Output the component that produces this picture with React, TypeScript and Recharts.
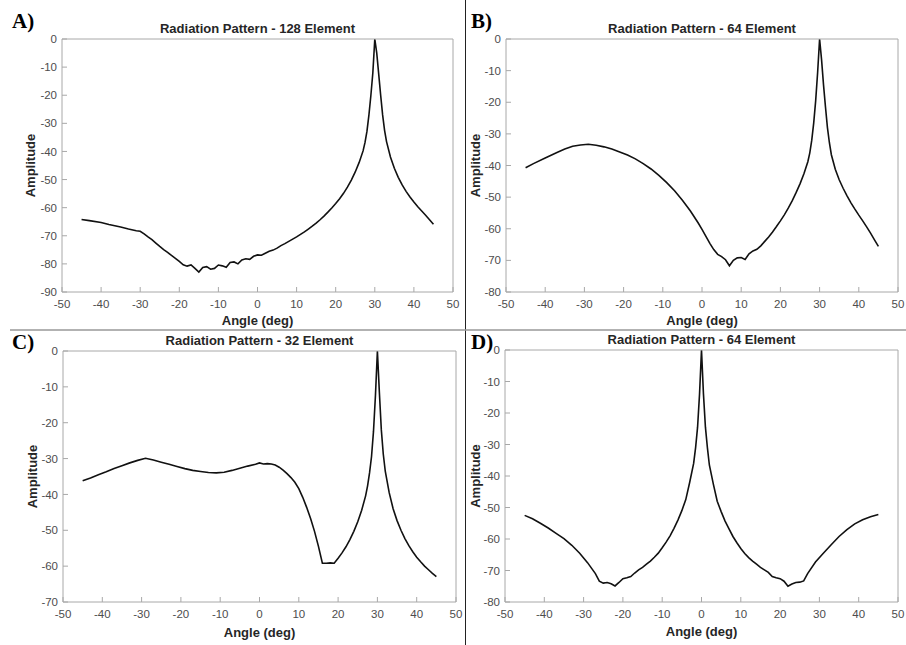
import { LineChart, Line, XAxis, YAxis } from "recharts";

// angle grid (deg) and amplitude (dB)
const anglesA = [
  -45, -43, -40, -38, -35, -33, -31, -30, -29, -28,
  -27, -26, -25, -24, -23, -22, -21, -20, -19, -18,
  -17, -16, -15, -14, -13, -12, -11, -10, -9, -8,
  -7, -6, -5, -4, -3, -2, -1, 0, 1, 2,
  3, 4, 5, 6, 7, 8, 9, 10, 11, 12,
  13, 14, 15, 16, 17, 18, 19, 20, 21, 22,
  23, 24, 25, 26, 27, 27.5, 28, 28.5, 29, 29.5,
  30, 30.5, 31, 31.5, 32, 32.5, 33, 34, 35, 36,
  37, 38, 39, 40, 41, 42, 43, 44, 45,
];
const ampA = [
  -64.2, -64.6, -65.3, -66.0, -66.9, -67.6, -68.2, -68.4, -69.3, -70.4,
  -71.4, -72.6, -73.8, -74.9, -75.9, -77.0, -78.0, -79.1, -80.3, -80.8,
  -80.4, -81.6, -82.9, -81.3, -81.0, -81.9, -81.6, -80.4, -80.7, -81.2,
  -79.5, -79.3, -80.0, -78.6, -78.2, -78.4, -77.3, -76.8, -76.9, -76.2,
  -75.5, -75.1, -74.4, -73.5, -72.8, -72.0, -71.2, -70.4, -69.5, -68.6,
  -67.6, -66.6, -65.5, -64.3, -63.0, -61.6, -60.1, -58.5, -56.8, -54.9,
  -52.7, -50.2, -47.3, -43.9, -39.8, -36.8, -32.8, -27.0, -20.0, -12.0,
  0, -5.0, -12.5, -20.0, -27.0, -32.5, -36.5, -42.0, -46.0, -49.2,
  -51.9, -54.2, -56.2, -58.0, -59.7, -61.2, -62.7, -64.3, -65.9,
];

const anglesB = [
  -45, -43, -40, -37, -35, -33, -31, -29, -27, -25,
  -23, -21, -19, -17, -15, -13, -11, -9, -7, -5,
  -3, -1, 0, 1, 2, 3, 4, 5, 6, 7,
  8, 9, 10, 11, 12, 13, 14, 15, 16, 17,
  18, 19, 20, 21, 22, 23, 24, 25, 26, 27,
  27.5, 28, 28.5, 29, 29.5, 30, 30.5, 31, 31.5, 32,
  32.5, 33, 34, 35, 36, 37, 38, 39, 40, 41,
  42, 43, 44, 45,
];
const ampB = [
  -40.7, -39.4, -37.6, -35.9, -34.8, -33.9, -33.5, -33.3, -33.6, -34.1,
  -34.8, -35.7, -36.7, -37.9, -39.4, -41.1, -43.1, -45.4, -48.0, -51.0,
  -54.3, -58.1, -60.2, -62.4, -64.6, -66.6, -68.1, -68.8, -69.8, -71.7,
  -70.0, -69.2, -69.1, -69.7, -67.9, -67.0, -66.5, -65.4, -64.0, -62.6,
  -61.0, -59.3, -57.5, -55.6, -53.5, -51.2, -48.6, -45.8, -42.6, -38.8,
  -36.0, -32.0, -26.5, -19.5, -10.5, 0, -6.5, -14.5, -21.5, -28.0,
  -32.8, -36.6, -41.2, -44.5, -47.2, -49.6, -51.8, -53.8, -55.7, -57.5,
  -59.4, -61.4, -63.5, -65.6,
];

const anglesC = [
  -45, -43, -41, -39, -37, -35, -33, -31, -29, -27,
  -25, -23, -21, -19, -17, -15, -13, -11, -9, -7,
  -5, -3, -1, 0,
  1, 2, 3, 4, 5, 6, 7, 8, 9, 10,
  11, 12, 13, 14, 15, 16, 17, 18, 19, 20,
  21, 22, 23, 24, 25, 26, 27,
  27.5, 28, 28.5, 29, 29.5, 30, 30.5, 31, 31.5, 32,
  33, 34, 35, 36, 37, 38, 39, 40, 41, 42, 43, 44, 45,
];
const ampC = [
  -36.2, -35.4, -34.5, -33.7, -32.8, -32.0, -31.2, -30.5, -29.9, -30.4,
  -31.0, -31.6, -32.2, -32.8, -33.3, -33.6, -33.9, -34.0, -33.8, -33.3,
  -32.7, -32.1, -31.6, -31.2,
  -31.5, -31.4, -31.5, -31.8, -32.4, -33.2, -34.2, -35.3, -36.6, -38.4,
  -40.8, -43.6, -46.7, -50.3, -54.5, -59.2, -59.2, -59.1, -59.2, -57.8,
  -56.3, -54.6, -52.6, -50.3, -47.6, -44.4, -40.4,
  -37.6, -34.0, -29.5, -22.5, -12.5, 0, -11.5, -22.0, -28.8, -33.5,
  -39.5, -44.0, -47.3, -50.0, -52.3, -54.3, -56.0, -57.5, -58.8, -60.0, -61.0, -62.0, -62.9,
];

const anglesD = [
  -45, -43, -41, -39, -37, -35, -33, -31, -29, -27,
  -26, -25, -24, -23, -22, -21, -20, -19, -18, -17,
  -16, -15, -14, -13, -12, -11, -10, -9, -8, -7,
  -6, -5, -4, -3, -2, -1.5, -1, -0.5, 0,
  0.5, 1, 1.5, 2, 3, 4, 5, 6, 7, 8,
  9, 10, 11, 12, 13, 14, 15, 16, 17, 18,
  19, 20, 21, 22, 23, 24, 25, 26, 27,
  29, 31, 33, 35, 37, 39, 41, 43, 45,
];
const ampD = [
  -52.5, -53.6, -55.0, -56.5, -58.2, -59.9, -62.0, -64.5, -67.5, -71.0,
  -73.4, -74.0, -73.8, -74.2, -74.9, -73.8, -72.6, -72.3, -71.9, -70.8,
  -69.8, -69.0, -68.0, -67.0, -65.8, -64.5, -62.8, -61.0, -59.0, -56.6,
  -54.0, -51.0, -47.5, -42.0, -36.0, -31.0, -24.5, -14.0, 0,
  -14.0, -24.5, -31.0, -36.5, -42.5, -48.0, -51.3, -54.3, -56.8, -59.2,
  -61.2, -63.0, -64.6, -65.9, -67.0, -68.0, -69.0, -69.8, -70.6, -71.9,
  -72.3, -72.6, -73.4, -75.0, -74.3, -73.8, -73.7, -73.3, -71.0,
  -67.3, -64.5, -61.8, -59.2, -57.0, -55.2, -53.9, -52.9, -52.2,
];

const angleTicks = [-50, -40, -30, -20, -10, 0, 10, 20, 30, 40, 50];
const ampTicks90 = [-90, -80, -70, -60, -50, -40, -30, -20, -10, 0];
const ampTicks80 = [-80, -70, -60, -50, -40, -30, -20, -10, 0];
const ampTicks70 = [-70, -60, -50, -40, -30, -20, -10, 0];

const SANS = "'Liberation Sans', Arial, sans-serif";
const SERIF = "'Liberation Serif', 'Times New Roman', serif";
const AXIS = "#a8a8a8";
const tickStyle = { fill: "#4d4d4d", fontSize: 11.5, fontFamily: SANS };
const labelProps = { fill: "#262626", fontSize: 13, fontWeight: "bold", fontFamily: SANS };

interface PanelProps {
  angles: number[];
  amps: number[];
  yTicks: number[];
  left: number;
  top: number;
  width: number;
  height: number;
  margin: { top: number; right: number; bottom: number; left: number };
  yWidth: number;
  yLabelOffset: number;
  xLabelOffset: number;
}

const Panel = ({ angles, amps, yTicks, left, top, width, height, margin, yWidth, yLabelOffset, xLabelOffset }: PanelProps) => {
  const data = angles.map((a, i) => ({ angle: a, amp: amps[i] }));
  const yDomain = [yTicks[0], 0];
  return (
    <div style={{ position: "absolute", left, top }}>
      <LineChart width={width} height={height} data={data} margin={margin}>
        <XAxis
          dataKey="angle"
          type="number"
          domain={[-50, 50]}
          ticks={angleTicks}
          height={36}
          stroke={AXIS}
          tickSize={-5}
          tickMargin={13}
          tick={tickStyle}
          label={{ value: "Angle (deg)", position: "insideBottom", offset: xLabelOffset, ...labelProps }}
        />
        <XAxis xAxisId="top" orientation="top" type="number" domain={[-50, 50]} ticks={angleTicks} height={1} stroke={AXIS} tickSize={-5} tick={false} />
        <YAxis
          type="number"
          domain={yDomain}
          ticks={yTicks}
          width={yWidth}
          stroke={AXIS}
          tickSize={-5}
          tickMargin={10}
          tick={tickStyle}
          label={{ value: "Amplitude", angle: -90, position: "insideLeft", offset: yLabelOffset, style: { textAnchor: "middle" }, ...labelProps }}
        />
        <YAxis yAxisId="right" orientation="right" type="number" domain={yDomain} ticks={yTicks} width={1} stroke={AXIS} tickSize={-5} tick={false} />
        <Line type="linear" dataKey="amp" stroke="#111" strokeWidth={1.6} dot={false} isAnimationActive={false} />
      </LineChart>
    </div>
  );
};

const App = () => {
  return (
    <div style={{ position: "absolute", left: 0, top: 0, width: 906, height: 645, background: "#fff", overflow: "hidden" }}>
      <Panel angles={anglesA} amps={ampA} yTicks={ampTicks90} left={0} top={0} width={466} height={330}
        margin={{ top: 38, right: 12, bottom: 2, left: 22 }} yWidth={40} yLabelOffset={8} xLabelOffset={3} />
      <Panel angles={anglesB} amps={ampB} yTicks={ampTicks80} left={466} top={0} width={440} height={330}
        margin={{ top: 38, right: 7, bottom: 2, left: 0 }} yWidth={40} yLabelOffset={9} xLabelOffset={3} />
      <Panel angles={anglesC} amps={ampC} yTicks={ampTicks70} left={0} top={330} width={466} height={315}
        margin={{ top: 20, right: 9, bottom: 7, left: 23 }} yWidth={40} yLabelOffset={9} xLabelOffset={1} />
      <Panel angles={anglesD} amps={ampD} yTicks={ampTicks80} left={466} top={330} width={440} height={315}
        margin={{ top: 19, right: 7, bottom: 7, left: 0 }} yWidth={39} yLabelOffset={9} xLabelOffset={2} />

      <svg width={906} height={645} style={{ position: "absolute", left: 0, top: 0, pointerEvents: "none" }}>
        <line x1={465.5} y1={0} x2={465.5} y2={645} stroke="#222" strokeWidth={1} />
        <line x1={10} y1={330} x2={906} y2={330} stroke="#999" strokeWidth={1.5} />

        <g fontFamily={SERIF} fontWeight="bold" fontSize={21} fill="#000">
          <text x={12} y={28}>A)</text>
          <text x={471} y={28}>B)</text>
          <text x={12} y={349}>C)</text>
          <text x={471} y={349}>D)</text>
        </g>
        <g fontFamily={SANS} fontWeight="bold" fontSize={13} fill="#262626" textAnchor="middle">
          <text x={257.5} y={32.5}>Radiation Pattern - 128 Element</text>
          <text x={702} y={32.5}>Radiation Pattern - 64 Element</text>
          <text x={259.5} y={345}>Radiation Pattern - 32 Element</text>
          <text x={701.5} y={344}>Radiation Pattern - 64 Element</text>
        </g>
      </svg>
    </div>
  );
};

export default App;
